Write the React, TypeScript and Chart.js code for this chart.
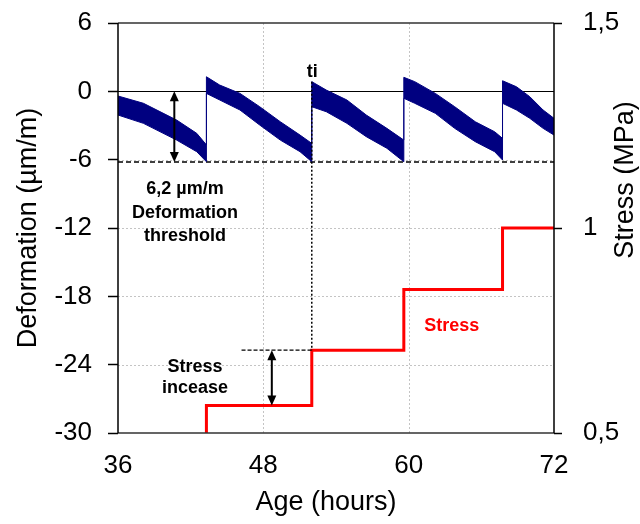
import { useEffect, useRef } from "react";
import { Chart, registerables } from "chart.js";

Chart.register(...registerables);

const FONT = "'Liberation Sans', Arial, Helvetica, sans-serif";
const NAVY = "#000080";
const RED = "#ff0000";

// axis ticks
const X_TICKS = [36, 48, 60, 72];
const DEF_TICKS = [-30, -24, -18, -12, -6, 0, 6];
const STRESS_TICKS = [0.5, 1, 1.5];

// Deformation band (noisy signal) : upper and lower envelope, hours / µm/m
const bandUpperHours = [36, 38.1, 40.84, 42.5, 43.3, 43.3, 44.4, 46.07, 47.7, 49.4, 51.03, 52.0, 52.0, 53.2, 54.9, 56.5, 58.2, 59.6, 59.6, 60.5, 62.2, 63.8, 65.5, 67.1, 67.75, 67.75, 68.9, 70.0, 71.1, 72];
const bandUpperValues = [-0.41, -1.05, -2.52, -3.69, -4.7, 1.28, 0.55, -0.18, -1.35, -2.67, -3.84, -4.57, 0.85, 0.11, -0.76, -2.08, -3.25, -4.28, 1.23, 0.85, -0.18, -1.35, -2.67, -3.55, -4.13, 0.93, 0.4, -0.47, -1.64, -2.37];
const bandLowerHours = [36, 38.1, 40.84, 42.5, 43.3, 43.3, 44.4, 46.07, 47.7, 49.4, 51.03, 52.0, 52.0, 53.2, 54.9, 56.5, 58.2, 59.6, 59.6, 60.5, 62.2, 63.8, 65.5, 67.1, 67.75, 67.75, 68.9, 70.0, 71.1, 72];
const bandLowerValues = [-2.08, -2.81, -4.28, -5.3, -6.18, -0.18, -0.76, -1.64, -2.96, -4.28, -5.3, -6.18, -1.35, -1.79, -2.81, -3.98, -5.0, -6.18, -0.61, -1.05, -1.93, -3.25, -4.42, -5.3, -6.03, -1.05, -1.64, -2.37, -3.25, -3.84];

// Stress steps, hours / MPa
const stressHours = [43.3, 43.3, 52, 52, 59.6, 59.6, 67.75, 67.75, 72];
const stressValues = [0.5, 0.567, 0.567, 0.702, 0.702, 0.85, 0.85, 1.0, 1.0];

// annotation values
const THRESHOLD = -6.2;
const TI_HOUR = 52;
const TI_TOP_DEF = 0.85;
const TI_BOTTOM_STRESS = 0.702;
const DEF_ARROW_HOUR = 40.65;
const STRESS_ARROW_HOUR = 48.7;
const STRESS_DASH_FROM = 46.2;
const STRESS_LOW = 0.567;
const STRESS_HIGH = 0.702;

type Note = { text: string; x: number; y: number; axis: "y" | "y2"; color: string };
const NOTES: Note[] = [
  { text: "ti", x: 52.03, y: 1.28, axis: "y", color: "#000" },
  { text: "6,2 µm/m", x: 41.53, y: -9.02, axis: "y", color: "#000" },
  { text: "Deformation", x: 41.53, y: -11.12, axis: "y", color: "#000" },
  { text: "threshold", x: 41.53, y: -13.14, axis: "y", color: "#000" },
  { text: "Stress", x: 42.36, y: -24.62, axis: "y", color: "#000" },
  { text: "incease", x: 42.36, y: -26.49, axis: "y", color: "#000" },
  { text: "Stress", x: 63.56, y: -21.02, axis: "y", color: RED },
];

const X_TITLE = "Age (hours)";
const Y_TITLE = "Deformation (µm/m)";
const Y2_TITLE = "Stress (MPa)";

function zip(xs: number[], ys: number[]) {
  return xs.map((x, i) => ({ x, y: ys[i] }));
}

function fmt(v: number | string) {
  return String(v).replace(".", ",");
}

function dblArrow(ctx: CanvasRenderingContext2D, x: number, yTop: number, yBot: number) {
  const head = 10;
  const half = 4.5;
  ctx.beginPath();
  ctx.moveTo(x, yTop + head - 1);
  ctx.lineTo(x, yBot - head + 1);
  ctx.stroke();
  ctx.beginPath();
  ctx.moveTo(x, yTop);
  ctx.lineTo(x - half, yTop + head);
  ctx.lineTo(x + half, yTop + head);
  ctx.closePath();
  ctx.fill();
  ctx.beginPath();
  ctx.moveTo(x, yBot);
  ctx.lineTo(x - half, yBot - head);
  ctx.lineTo(x + half, yBot - head);
  ctx.closePath();
  ctx.fill();
}

const overlay = {
  id: "overlay",
  beforeDatasetsDraw(chart: any) {
    const { ctx, chartArea: a, scales } = chart;
    const sx = scales.x;
    const sy = scales.y;
    ctx.save();
    // grid
    ctx.strokeStyle = "#c4c4c4";
    ctx.lineWidth = 1;
    ctx.setLineDash([2, 2]);
    X_TICKS.filter((v) => v > 36 && v < 72).forEach((v) => {
      const px = Math.round(sx.getPixelForValue(v)) + 0.5;
      ctx.beginPath();
      ctx.moveTo(px, a.top);
      ctx.lineTo(px, a.bottom);
      ctx.stroke();
    });
    DEF_TICKS.filter((v) => v > -30 && v < 6 && v !== 0).forEach((v) => {
      const py = Math.round(sy.getPixelForValue(v)) + 0.5;
      ctx.beginPath();
      ctx.moveTo(a.left, py);
      ctx.lineTo(a.right, py);
      ctx.stroke();
    });
    ctx.setLineDash([]);
    // zero line
    const y0 = Math.round(sy.getPixelForValue(0)) + 0.5;
    ctx.strokeStyle = "#000";
    ctx.lineWidth = 1;
    ctx.beginPath();
    ctx.moveTo(a.left, y0);
    ctx.lineTo(a.right, y0);
    ctx.stroke();
    // threshold
    const yt = sy.getPixelForValue(THRESHOLD);
    ctx.setLineDash([5, 3]);
    ctx.lineWidth = 1.5;
    ctx.beginPath();
    ctx.moveTo(a.left, yt);
    ctx.lineTo(a.right, yt);
    ctx.stroke();
    ctx.restore();
  },
  afterDatasetsDraw(chart: any) {
    const { ctx, chartArea: a, scales } = chart;
    const sx = scales.x;
    const sy = scales.y;
    const sy2 = scales.y2;
    ctx.save();
    // frame
    ctx.lineWidth = 1.5;
    ctx.strokeStyle = "#333";
    ctx.beginPath();
    ctx.moveTo(a.left, a.top);
    ctx.lineTo(a.right, a.top);
    ctx.moveTo(a.left, a.bottom);
    ctx.lineTo(a.right, a.bottom);
    ctx.stroke();
    ctx.strokeStyle = "#000";
    ctx.beginPath();
    ctx.moveTo(a.left, a.top);
    ctx.lineTo(a.left, a.bottom);
    ctx.moveTo(a.right, a.top);
    ctx.lineTo(a.right, a.bottom);
    ctx.stroke();

    // ti dotted line
    const xti = sx.getPixelForValue(TI_HOUR);
    ctx.lineWidth = 1.5;
    ctx.setLineDash([2, 2]);
    ctx.beginPath();
    ctx.moveTo(xti, sy.getPixelForValue(TI_TOP_DEF));
    ctx.lineTo(xti, sy2.getPixelForValue(TI_BOTTOM_STRESS));
    ctx.stroke();
    // stress dashed
    ctx.lineWidth = 1.2;
    ctx.setLineDash([4, 2]);
    const ys = sy2.getPixelForValue(STRESS_HIGH);
    ctx.beginPath();
    ctx.moveTo(sx.getPixelForValue(STRESS_DASH_FROM), ys);
    ctx.lineTo(xti, ys);
    ctx.stroke();
    ctx.setLineDash([]);

    // arrows
    ctx.fillStyle = "#000";
    ctx.strokeStyle = "#000";
    ctx.lineWidth = 2;
    dblArrow(ctx, sx.getPixelForValue(DEF_ARROW_HOUR), sy.getPixelForValue(0), sy.getPixelForValue(THRESHOLD));
    dblArrow(ctx, sx.getPixelForValue(STRESS_ARROW_HOUR), sy2.getPixelForValue(STRESS_HIGH), sy2.getPixelForValue(STRESS_LOW));

    // notes
    ctx.font = `bold 18px ${FONT}`;
    ctx.textAlign = "center";
    ctx.textBaseline = "alphabetic";
    NOTES.forEach((n) => {
      ctx.fillStyle = n.color;
      const yy = (n.axis === "y" ? sy : sy2).getPixelForValue(n.y);
      ctx.fillText(n.text, sx.getPixelForValue(n.x), yy);
    });

    // axis titles
    ctx.fillStyle = "#000";
    ctx.font = `27px ${FONT}`;
    ctx.textAlign = "center";
    ctx.textBaseline = "alphabetic";
    ctx.fillText(X_TITLE, 326, 510);
    ctx.save();
    ctx.translate(36, 228);
    ctx.rotate(-Math.PI / 2);
    ctx.fillText(Y_TITLE, 0, 0);
    ctx.restore();
    ctx.save();
    ctx.translate(633, 180);
    ctx.rotate(-Math.PI / 2);
    ctx.fillText(Y2_TITLE, 0, 0);
    ctx.restore();
    ctx.restore();
  },
};

export default function App() {
  const ref = useRef<HTMLCanvasElement | null>(null);
  useEffect(() => {
    if (!ref.current) return;
    const tickFont = { family: FONT, size: 26 };
    const chart = new Chart(ref.current, {
      type: "line",
      data: {
        datasets: [
          {
            label: "upper",
            data: zip(bandUpperHours, bandUpperValues),
            borderColor: NAVY,
            backgroundColor: NAVY,
            borderWidth: 1,
            pointRadius: 0,
            fill: false,
            yAxisID: "y",
          },
          {
            label: "Deformation",
            data: zip(bandLowerHours, bandLowerValues),
            borderColor: NAVY,
            backgroundColor: NAVY,
            borderWidth: 1,
            pointRadius: 0,
            fill: "-1",
            yAxisID: "y",
          },
          {
            label: "Stress",
            data: zip(stressHours, stressValues),
            borderColor: RED,
            backgroundColor: RED,
            borderWidth: 3,
            pointRadius: 0,
            fill: false,
            yAxisID: "y2",
          },
        ],
      },
      options: {
        animation: false,
        responsive: false,
        layout: { padding: { top: 23, left: 0, right: 0, bottom: 0 } },
        elements: { line: { tension: 0 } },
        plugins: { legend: { display: false }, tooltip: { enabled: false } },
        scales: {
          x: {
            type: "linear",
            min: 36,
            max: 72,
            afterBuildTicks: (s: any) => {
              s.ticks = X_TICKS.map((v) => ({ value: v }));
            },
            afterFit: (s: any) => {
              s.height = 91;
              s.paddingLeft = 0;
              s.paddingRight = 0;
            },
            grid: { display: false, drawTicks: false },
            border: { display: false },
            ticks: { font: tickFont, color: "#000", padding: 17, maxRotation: 0, callback: (v: any) => fmt(v) },
          },
          y: {
            type: "linear",
            position: "left",
            min: -30,
            max: 6,
            afterBuildTicks: (s: any) => {
              s.ticks = DEF_TICKS.map((v) => ({ value: v }));
            },
            afterFit: (s: any) => {
              s.width = 118;
              s.paddingTop = 0;
              s.paddingBottom = 0;
            },
            grid: { display: true, drawOnChartArea: false, drawTicks: true, tickLength: 10, color: "#000", tickColor: "#000", tickWidth: 1.5 },
            border: { display: false },
            ticks: { font: tickFont, color: "#000", padding: 16, callback: (v: any) => fmt(v) },
          },
          y2: {
            type: "linear",
            position: "right",
            min: 0.5,
            max: 1.5,
            afterBuildTicks: (s: any) => {
              s.ticks = STRESS_TICKS.map((v) => ({ value: v }));
            },
            afterFit: (s: any) => {
              s.width = 86;
              s.paddingTop = 0;
              s.paddingBottom = 0;
            },
            grid: { display: true, drawOnChartArea: false, drawTicks: true, tickLength: 8, color: "#000", tickColor: "#000", tickWidth: 1.5 },
            border: { display: false },
            ticks: { font: tickFont, color: "#000", padding: 21, callback: (v: any) => fmt(v) },
          },
        },
      },
      plugins: [overlay],
    } as any);
    return () => chart.destroy();
  }, []);
  return (
    <div style={{ position: "absolute", left: 0, top: 0, width: 640, height: 524, background: "#fff" }}>
      <canvas ref={ref} width={640} height={524} style={{ display: "block" }} />
    </div>
  );
}
